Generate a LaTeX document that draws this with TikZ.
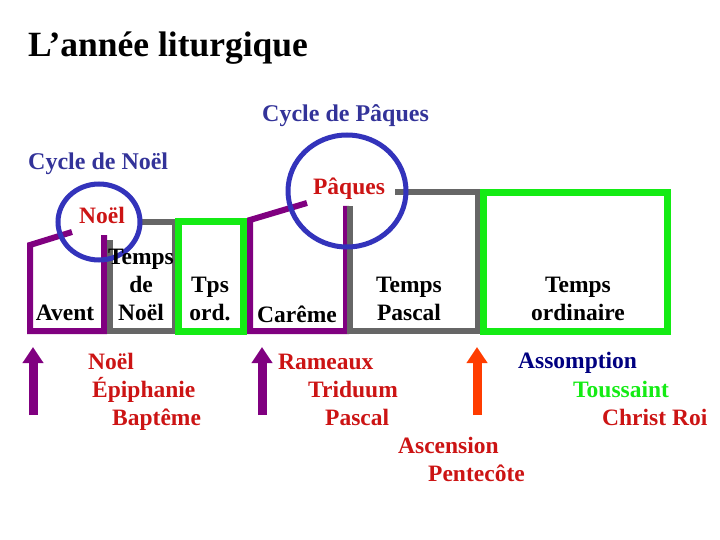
\documentclass[tikz,border=0pt]{standalone}
\usepackage{fontspec}
\setmainfont{Liberation Serif}
\usepackage{xcolor}
\usepackage{tikz}
\usetikzlibrary{arrows.meta}

\definecolor{violetlit}{RGB}{128,0,128}
\definecolor{grislit}{RGB}{102,102,102}
\definecolor{vertlit}{RGB}{20,235,20}
\definecolor{bleucercle}{RGB}{51,51,187}
\definecolor{bleutxt}{RGB}{51,51,153}
\definecolor{rougetxt}{RGB}{204,20,20}
\definecolor{orangelit}{RGB}{255,60,0}
\definecolor{marine}{RGB}{0,0,128}

\begin{document}
\begin{tikzpicture}[x=1pt, y=-1pt, color=black,
		font=\bfseries\fontsize{23.5}{28}\selectfont,
		txt/.style={inner sep=0pt, anchor=base, align=center},
		lst/.style={inner sep=0pt, anchor=base west, text=rougetxt},
		cycle/.style={inner sep=0pt, anchor=base west, text=bleutxt,
			font=\bfseries\fontsize{24}{28}\selectfont},
		cercle/.style={line width=5pt, bleucercle},
		fleche/.style={line width=9pt, -{Triangle[width=20pt,length=16pt]}}]
		\useasboundingbox (0,0) rectangle (720,540);
		
		% titres
		\node[inner sep=0pt, anchor=base west, font=\bfseries\fontsize{35.5}{40}\selectfont] (titre) at (28,57) {L’année liturgique};
		\node[cycle] (cpaques) at (262,122) {Cycle de Pâques};
		\node[cycle] (cnoel) at (28,170) {Cycle de Noël};
		
		% les temps
		\draw[violetlit, line width=6pt] (72,232) -- (30,245) -- (30,331) -- (104,331) -- (104,235);
		\draw[grislit, line width=6pt] (138,222) -- (175,222) -- (175,331) -- (110,331) -- (110,240);
		\draw[vertlit, line width=7pt] (178,222) rectangle (243,331);
		\draw[violetlit, line width=6pt] (307,203) -- (250,220) -- (250,331) -- (346,331) -- (346,206);
		\draw[grislit, line width=6pt] (395,192) -- (478,192) -- (478,331) -- (350,331) -- (350,206);
		\draw[vertlit, line width=7pt] (483,193) rectangle (667,331);
		
		\draw[cercle] (99,222) ellipse [x radius=41pt, y radius=38pt];
		\draw[cercle] (347,191) ellipse [x radius=59pt, y radius=56pt];
		\node[txt, text=rougetxt] (fnoel) at (102,223) {Noël};
		\node[txt, text=rougetxt] (fpaques) at (349,195) {Pâques};
		
		% base = derniere ligne
		\node[txt] (avent) at (65,320) {Avent};
		\node[txt] (tnoel) at (141,320) {Temps\\de\\Noël};
		\node[txt] (tpsord) at (210,320) {Tps\\ord.};
		\node[txt] (careme) at (297,322) {Carême};
		\node[txt] (tpascal) at (409,320) {Temps\\Pascal};
		\node[txt] (tord) at (578,320) {Temps\\ordinaire};
		
		% fleches
		\coordinate (f1) at (33,415);   \coordinate (f1h) at (33,347);
		\coordinate (f2) at (262,415);  \coordinate (f2h) at (262,347);
		\coordinate (f3) at (477,415);  \coordinate (f3h) at (477,347);
		\draw[fleche, violetlit] (f1) -- (f1h);
		\draw[fleche, violetlit] (f2) -- (f2h);
		\draw[fleche, orangelit] (f3) -- (f3h);
		
		% fetes
		\foreach \n/\x/\y/\t in {noel/88/369/Noël, epiph/92/397/Épiphanie, bapt/112/425/Baptême,
			ram/278/369/Rameaux, trid/308/397/Triduum, pasc/325/425/Pascal,
			asc/398/453/Ascension, pent/428/481/Pentecôte, roi/602/425/Christ Roi}{
			\node[lst] (\n) at (\x,\y) {\t};
		}
		\node[lst, text=marine] (assompt) at (518,368) {Assomption};
		\node[lst, text=vertlit] (touss) at (573,397) {Toussaint};
	\end{tikzpicture}
\end{document}
